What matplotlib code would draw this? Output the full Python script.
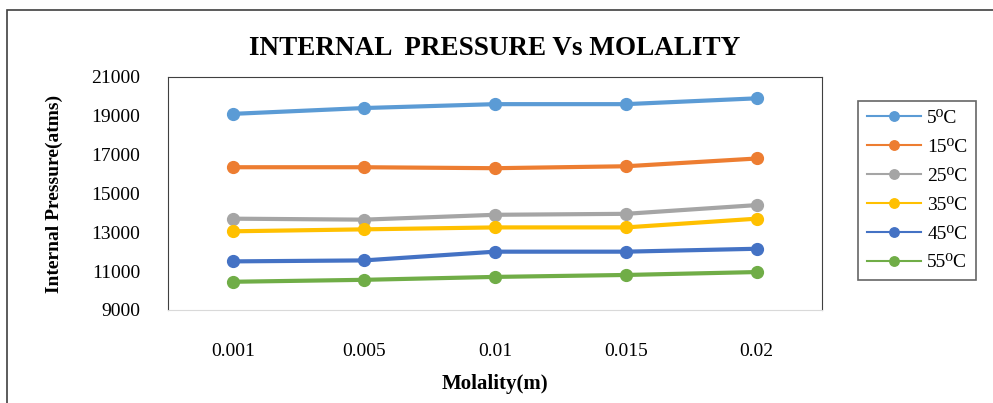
import matplotlib.pyplot as plt
from matplotlib.patches import Rectangle

molality = ["0.001", "0.005", "0.01", "0.015", "0.02"]
temps = ["5⁰C", "15⁰C", "25⁰C", "35⁰C", "45⁰C", "55⁰C"]
p_5 = [19100, 19400, 19600, 19600, 19900]
p_15 = [16350, 16350, 16300, 16400, 16800]
p_25 = [13700, 13650, 13900, 13950, 14400]
p_35 = [13050, 13150, 13250, 13250, 13700]
p_45 = [11500, 11550, 12000, 12000, 12150]
p_55 = [10450, 10550, 10700, 10800, 10950]
colors = ["#5B9BD5", "#ED7D31", "#A5A5A5", "#FFC000", "#4472C4", "#70AD47"]

plt.rcParams["font.family"] = ["Liberation Serif", "DejaVu Serif"]

fig = plt.figure(figsize=(9.93, 4.03), dpi=100)
ax = fig.add_axes([0.169, 0.231, 0.659, 0.578])

x = range(len(molality))
series = [p_5, p_15, p_25, p_35, p_45, p_55]
for vals, label, c in zip(series, temps, colors):
    ax.plot(x, vals, color=c, lw=3, marker="o", markersize=8.5, label=label)

ax.set_xlim(-0.5, len(molality) - 0.5)
ax.set_ylim(9000, 21000)
ax.set_yticks(range(9000, 21001, 2000))
ax.set_xticks(list(x))
ax.set_xticklabels(molality)
ax.tick_params(axis="both", length=0, labelsize=14)
ax.tick_params(axis="x", pad=24)
ax.tick_params(axis="y", pad=20)
for s in ["top", "left", "right"]:
    ax.spines[s].set_color("#404040")
ax.spines["bottom"].set_color("#d9d9d9")

ax.set_title("INTERNAL  PRESSURE Vs MOLALITY", fontsize=19.5, fontweight="bold", pad=16)
ax.set_xlabel("Molality(m)", fontsize=15, fontweight="bold", labelpad=10)
ax.set_ylabel("Internal Pressure(atms)", fontsize=14, fontweight="bold", labelpad=20)

leg = ax.legend(loc="upper left", bbox_to_anchor=(1.04, 0.94), fontsize=14,
                frameon=True, fancybox=False, edgecolor="#404040",
                handlelength=2.8, handletextpad=0.3, borderpad=0.45,
                labelspacing=0.58, markerscale=0.8)
leg.get_frame().set_linewidth(1.2)
for h in leg.legend_handles:
    h.set_linewidth(1.5)

fig.patches.append(Rectangle((7 / 993, -0.1), 1.2, 1.1 - 10 / 403, transform=fig.transFigure,
                             fill=False, edgecolor="#404040", lw=1.2))

fig.savefig("out.png", dpi=100)
